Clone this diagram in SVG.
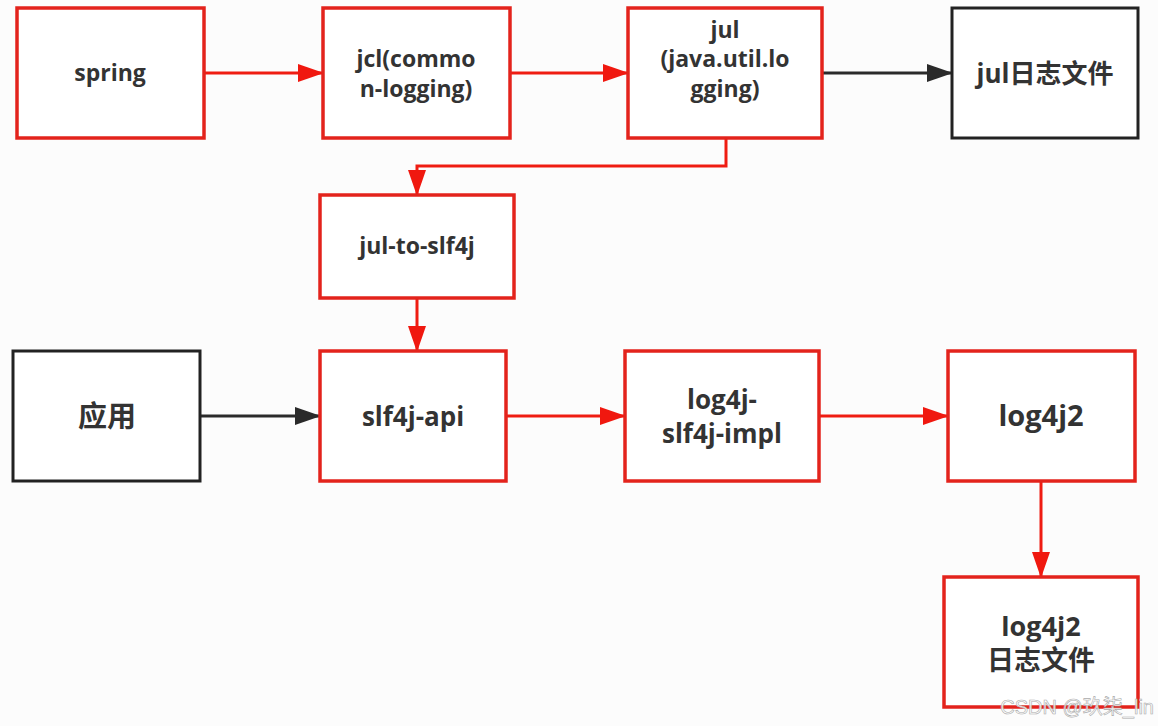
<svg xmlns="http://www.w3.org/2000/svg" width="1158" height="726" viewBox="0 0 1158 726">
<defs>
<marker id="ar" markerWidth="26" markerHeight="18" refX="25" refY="9" orient="auto" markerUnits="userSpaceOnUse"><path d="M0,0 L26,9 L0,18 Z" fill="#f0180f"/></marker>
<marker id="ab" markerWidth="26" markerHeight="18" refX="25" refY="9" orient="auto" markerUnits="userSpaceOnUse"><path d="M0,0 L26,9 L0,18 Z" fill="#2a2a2a"/></marker>
<style>
.r{fill:#fff;stroke:#e3231c;stroke-width:3.5}
.b{fill:#fff;stroke:#222;stroke-width:3}
.t{font-family:"Open Sans","Noto Sans CJK SC",sans-serif;font-weight:bold;fill:#333;text-anchor:middle}
.cr{fill:none;stroke:#ef1c12;stroke-width:3}
.cb{fill:none;stroke:#2a2a2a;stroke-width:3}
</style>
</defs>
<rect width="1158" height="726" fill="#fcfcfc"/>
<g id="connectors">
<path class="cr" d="M204,73 H323" marker-end="url(#ar)"/>
<path class="cr" d="M510,73 H628" marker-end="url(#ar)"/>
<path class="cb" d="M822,73 H952" marker-end="url(#ab)"/>
<path class="cr" d="M726,138 V166 H417 V195" marker-end="url(#ar)"/>
<path class="cr" d="M417,298 V351" marker-end="url(#ar)"/>
<path class="cb" d="M200,416 H320" marker-end="url(#ab)"/>
<path class="cr" d="M506,416 H625" marker-end="url(#ar)"/>
<path class="cr" d="M819,416 H948" marker-end="url(#ar)"/>
<path class="cr" d="M1041,481 V577" marker-end="url(#ar)"/>
</g>
<g id="spring"><rect class="r" x="17" y="8" width="187" height="130"/><text class="t" x="110" y="81" font-size="23">spring</text></g>
<g id="jcl"><rect class="r" x="323" y="8" width="187" height="130"/><text class="t" x="416" y="67" font-size="23">jcl(commo</text><text class="t" x="416" y="97" font-size="23">n-logging)</text></g>
<g id="jul"><rect class="r" x="628" y="8" width="194" height="130"/><text class="t" x="725" y="38" font-size="23">jul</text><text class="t" x="725" y="67" font-size="23">(java.util.lo</text><text class="t" x="725" y="97" font-size="23">gging)</text></g>
<g id="julfile"><rect class="b" x="952" y="8" width="186" height="130"/><text class="t" x="1045" y="83" font-size="26">jul日志文件</text></g>
<g id="jul2slf4j"><rect class="r" x="320" y="195" width="194" height="103"/><text class="t" x="417" y="254" font-size="23">jul-to-slf4j</text></g>
<g id="app"><rect class="b" x="13" y="351" width="187" height="130"/><text class="t" x="107" y="427" font-size="29">应用</text></g>
<g id="slf4japi"><rect class="r" x="320" y="351" width="186" height="130"/><text class="t" x="413" y="426" font-size="26">slf4j-api</text></g>
<g id="impl"><rect class="r" x="625" y="351" width="194" height="130"/><text class="t" x="722" y="409" font-size="26">log4j-</text><text class="t" x="722" y="443" font-size="26">slf4j-impl</text></g>
<g id="log4j2"><rect class="r" x="948" y="351" width="187" height="130"/><text class="t" x="1041" y="426" font-size="29">log4j2</text></g>
<g id="log4j2file"><rect class="r" x="944" y="577" width="194" height="130"/><text class="t" x="1041" y="636" font-size="27">log4j2</text><text class="t" x="1041" y="670" font-size="27">日志文件</text></g>
<text x="1154" y="714" font-family="Liberation Sans,'Noto Sans CJK SC',sans-serif" font-size="20" fill="#fff" fill-opacity="0.85" stroke="#aaa" stroke-width="0.6" text-anchor="end">CSDN @玖柒_lin</text>
</svg>
